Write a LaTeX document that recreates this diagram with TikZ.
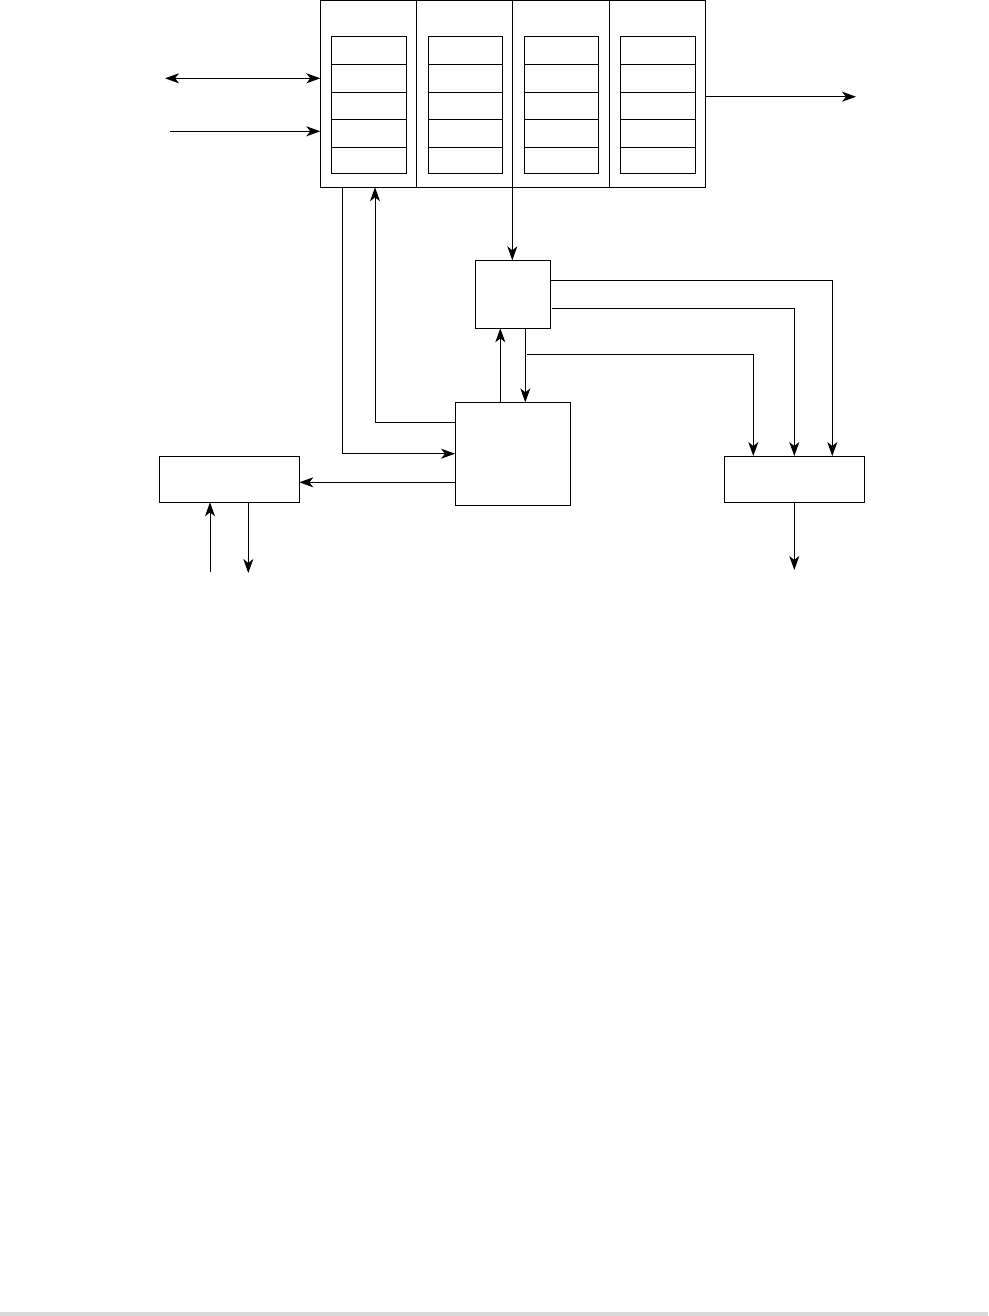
\documentclass[tikz,border=0pt]{standalone}
\usetikzlibrary{arrows.meta,calc}
\begin{document}
\begin{tikzpicture}[x=1pt,y=-1pt,
  box/.style={draw,line width=1pt,inner sep=0pt,outer sep=0pt},
  conn/.style={line width=1pt},
  tip/.style={-{Stealth[length=14pt,width=10pt,inset=4pt]}},
  >={Stealth[length=14pt,width=10pt,inset=4pt]}]
\useasboundingbox (0,0) rectangle (988,1316);
\fill[black!15] (0,1312) rectangle (988,1316);
% column blocks
\foreach \i/\xl/\xr in {1/320.3/416.7, 2/416.7/512.3, 3/512.3/609.3, 4/609.3/705.7}{
  \node[box,minimum width={\xr-\xl},minimum height=186.8] (c\i) at ({(\xl+\xr)/2},93.9) {};
}
% inner cells
\foreach \i/\xl/\xr in {1/331.3/406.3, 2/428.3/502.3, 3/524.3/598.3, 4/620.3/695.3}{
  \foreach \j/\yt/\yb in {1/36.3/64.3, 2/64.3/92.3, 3/92.3/119.3, 4/119.3/147.3, 5/147.3/174}{
    \node[box,minimum width={\xr-\xl},minimum height={\yb-\yt}] (r\i\j) at ({(\xl+\xr)/2},{(\yt+\yb)/2}) {};
  }
}
% other blocks
\node[box,minimum width=75,minimum height=68] (sm) at (512.8,294.3) {};
\node[box,minimum width=115.3,minimum height=102.7] (mid) at (512.7,453.7) {};
\node[box,minimum width=140,minimum height=46] (lb) at (229.3,479.3) {};
\node[box,minimum width=140,minimum height=46.3] (rb) at (794.3,479.2) {};
% free ends
\coordinate (L1) at (165,78.3);
\coordinate (L2) at (170,131.3);
\coordinate (R1) at (856,96.7);
\coordinate (B1) at (210,572.3);
\coordinate (B2) at (248.3,573);
\coordinate (B3) at (794.3,570);
% connectors
\draw[conn,<->] (L1) -- (L1 -| c1.west);
\draw[conn,->] (L2) -- (L2 -| c1.west);
\draw[conn,->] (R1 -| c4.east) -- (R1);
\draw[conn,->] ($(c1.south west)+(22,0)$) |- (mid.west);
\draw[conn,->] ($(mid.west)+(0,-31.4)$) -| ($(c1.south west)+(54.7,0)$);
\draw[conn,->] (c3.south west) -- (c3.south west |- sm.north);
\draw[conn,->] ($(mid.north)+(-12.4,0)$) -- ($(sm.south)+(-12.5,0)$);
\draw[conn,->] ($(sm.south)+(12.5,0)$) -- ($(mid.north)+(12.6,0)$);
\draw[conn,->] ($(sm.north east)+(0,20)$) -| ($(rb.north)+(38,0)$);
\draw[conn,->] ($(sm.north east)+(1.4,48)$) -| (rb.north);
\draw[conn,->] ($(sm.south)+(14.5,26)$) -| ($(rb.north)+(-41,0)$);
\draw[conn,->] ($(mid.west)+(0,28.6)$) -- ($(lb.east)+(0,3)$);
\draw[conn,->] (B1) -- (B1 |- lb.south);
\draw[conn,->] (B2 |- lb.south) -- (B2);
\draw[conn,->] (rb.south) -- (B3);
\end{tikzpicture}
\end{document}
